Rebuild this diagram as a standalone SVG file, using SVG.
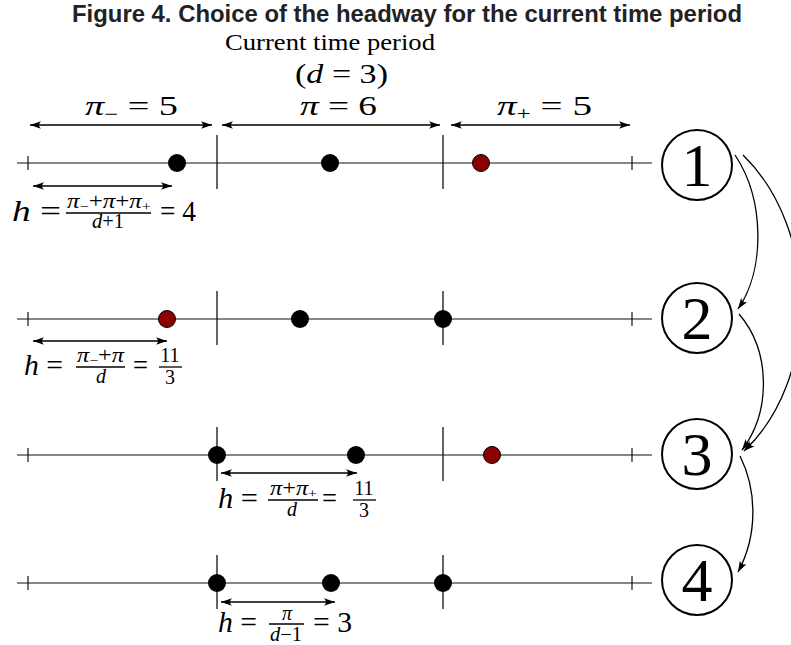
<svg xmlns="http://www.w3.org/2000/svg" width="791" height="645" viewBox="0 0 791 645">
<style>
.title{font-family:"Liberation Sans",Arial,sans-serif;font-weight:bold;font-size:24px;fill:#222}
.rm{font-family:"Liberation Serif","Times New Roman",serif;fill:#000}
.it{font-style:italic}
.ln{stroke:#111;stroke-width:1.2;fill:none}
.sep{stroke:#111;stroke-width:1.3}
.bar{stroke:#000;stroke-width:1.3}
.dot{fill:#000}
.red{fill:#8b0000;stroke:#000;stroke-width:1}
.arr{stroke:#000;stroke-width:1.4;fill:none;marker-start:url(#ah);marker-end:url(#ah)}
.node circle{fill:#fff;stroke:#000;stroke-width:2}
.node text{font-family:"Liberation Serif","Times New Roman",serif;font-size:62px;text-anchor:middle}
#connectors path{stroke:#000;stroke-width:1.3;fill:none;marker-end:url(#ah2)}
</style>
<defs>
<marker id="ah" viewBox="-12 -5 14 10" markerWidth="14" markerHeight="10" refX="0" refY="0" orient="auto-start-reverse" markerUnits="userSpaceOnUse"><path d="M0,0 L-11,-3.8 Q-7,0 -11,3.8 Z" fill="#000"/></marker>
<marker id="ah2" viewBox="-12 -5 14 10" markerWidth="14" markerHeight="10" refX="0" refY="0" orient="auto" markerUnits="userSpaceOnUse"><path d="M0,0 L-11,-3.8 Q-7,0 -11,3.8 Z" fill="#000"/></marker>
</defs>
<rect width="791" height="645" fill="#fff"/>

<text class="title" x="407" y="22" text-anchor="middle" textLength="670" lengthAdjust="spacingAndGlyphs">Figure 4. Choice of the headway for the current time period</text>

<g id="header">
<text class="rm" x="225" y="50" font-size="24" textLength="210" lengthAdjust="spacingAndGlyphs">Current time period</text>
<text class="rm" x="295" y="83" font-size="28" textLength="93" lengthAdjust="spacingAndGlyphs">(<tspan class="it">d</tspan> = 3)</text>
<text class="rm" x="85" y="115" font-size="28" textLength="93" lengthAdjust="spacingAndGlyphs"><tspan class="it">π</tspan><tspan font-size="18" dy="5">−</tspan><tspan dy="-5"> = 5</tspan></text>
<text class="rm" x="300" y="115" font-size="28" textLength="77" lengthAdjust="spacingAndGlyphs"><tspan class="it">π</tspan> = 6</text>
<text class="rm" x="497" y="115" font-size="28" textLength="95" lengthAdjust="spacingAndGlyphs"><tspan class="it">π</tspan><tspan font-size="18" dy="5">+</tspan><tspan dy="-5"> = 5</tspan></text>
<line class="arr" x1="30" y1="125" x2="212" y2="125"/>
<line class="arr" x1="222" y1="125" x2="440" y2="125"/>
<line class="arr" x1="451" y1="125" x2="630" y2="125"/>
</g>

<g id="row1">
<line class="ln" x1="17" y1="163" x2="652" y2="163"/>
<line class="ln" x1="28" y1="156" x2="28" y2="170"/>
<line class="ln" x1="632" y1="156" x2="632" y2="170"/>
<line class="sep" x1="217" y1="135" x2="217" y2="189"/>
<line class="sep" x1="443" y1="135" x2="443" y2="189"/>
<circle class="dot" cx="177" cy="163" r="9"/>
<circle class="dot" cx="330" cy="163" r="9"/>
<circle class="red" cx="481" cy="163" r="8.5"/>
<line class="arr" x1="33" y1="186" x2="172" y2="186"/>
<text class="rm" x="12" y="221" font-size="30" textLength="49" lengthAdjust="spacingAndGlyphs"><tspan class="it">h</tspan> =</text>
<text class="rm" x="67" y="208" font-size="20" textLength="84" lengthAdjust="spacingAndGlyphs"><tspan class="it">π</tspan><tspan font-size="13" dy="3">−</tspan><tspan dy="-3">+</tspan><tspan class="it">π</tspan>+<tspan class="it">π</tspan><tspan font-size="13" dy="3">+</tspan></text>
<line class="bar" x1="66" y1="213" x2="151" y2="213"/>
<text class="rm" x="92" y="228" font-size="20" textLength="32" lengthAdjust="spacingAndGlyphs"><tspan class="it">d</tspan>+1</text>
<text class="rm" x="160" y="221" font-size="30" textLength="36" lengthAdjust="spacingAndGlyphs">= 4</text>
</g>

<g id="row2">
<line class="ln" x1="17" y1="319" x2="652" y2="319"/>
<line class="ln" x1="28" y1="312" x2="28" y2="326"/>
<line class="ln" x1="632" y1="312" x2="632" y2="326"/>
<line class="sep" x1="217" y1="291" x2="217" y2="345"/>
<line class="sep" x1="443" y1="291" x2="443" y2="345"/>
<circle class="red" cx="167" cy="319" r="8.5"/>
<circle class="dot" cx="300" cy="319" r="9"/>
<circle class="dot" cx="443" cy="319" r="9"/>
<line class="arr" x1="33" y1="341" x2="167" y2="341"/>
<text class="rm" x="24" y="375" font-size="30" textLength="39" lengthAdjust="spacingAndGlyphs"><tspan class="it">h</tspan> =</text>
<text class="rm" x="77" y="362" font-size="20" textLength="47" lengthAdjust="spacingAndGlyphs"><tspan class="it">π</tspan><tspan font-size="13" dy="3">−</tspan><tspan dy="-3">+</tspan><tspan class="it">π</tspan></text>
<line class="bar" x1="76" y1="367" x2="125" y2="367"/>
<text class="rm it" x="101" y="383" font-size="20" text-anchor="middle">d</text>
<text class="rm" x="133" y="375" font-size="30" textLength="15" lengthAdjust="spacingAndGlyphs">=</text>
<text class="rm" x="170" y="362" font-size="20" text-anchor="middle">11</text>
<line class="bar" x1="159" y1="367" x2="182" y2="367"/>
<text class="rm" x="170" y="384" font-size="20" text-anchor="middle">3</text>
</g>

<g id="row3">
<line class="ln" x1="17" y1="455" x2="652" y2="455"/>
<line class="ln" x1="28" y1="448" x2="28" y2="462"/>
<line class="ln" x1="632" y1="448" x2="632" y2="462"/>
<line class="sep" x1="217" y1="427" x2="217" y2="481"/>
<line class="sep" x1="443" y1="427" x2="443" y2="481"/>
<circle class="dot" cx="217" cy="455" r="9"/>
<circle class="dot" cx="356" cy="455" r="9"/>
<circle class="red" cx="492" cy="455" r="8.5"/>
<line class="arr" x1="221" y1="473" x2="357" y2="473"/>
<text class="rm" x="218" y="508" font-size="30" textLength="40" lengthAdjust="spacingAndGlyphs"><tspan class="it">h</tspan> =</text>
<text class="rm" x="270" y="495" font-size="20" textLength="47" lengthAdjust="spacingAndGlyphs"><tspan class="it">π</tspan>+<tspan class="it">π</tspan><tspan font-size="13" dy="3">+</tspan></text>
<line class="bar" x1="268" y1="500" x2="318" y2="500"/>
<text class="rm it" x="292" y="516" font-size="20" text-anchor="middle">d</text>
<text class="rm" x="322" y="508" font-size="30" textLength="15" lengthAdjust="spacingAndGlyphs">=</text>
<text class="rm" x="364" y="495" font-size="20" text-anchor="middle">11</text>
<line class="bar" x1="353" y1="500" x2="376" y2="500"/>
<text class="rm" x="364" y="517" font-size="20" text-anchor="middle">3</text>
</g>

<g id="row4">
<line class="ln" x1="17" y1="583" x2="652" y2="583"/>
<line class="ln" x1="28" y1="576" x2="28" y2="590"/>
<line class="ln" x1="632" y1="576" x2="632" y2="590"/>
<line class="sep" x1="217" y1="555" x2="217" y2="609"/>
<line class="sep" x1="443" y1="555" x2="443" y2="609"/>
<circle class="dot" cx="217" cy="583" r="9"/>
<circle class="dot" cx="331" cy="583" r="9"/>
<circle class="dot" cx="443" cy="583" r="9"/>
<line class="arr" x1="221" y1="602" x2="335" y2="602"/>
<text class="rm" x="218" y="632" font-size="30" textLength="39" lengthAdjust="spacingAndGlyphs"><tspan class="it">h</tspan> =</text>
<text class="rm it" x="287" y="620" font-size="20" text-anchor="middle">π</text>
<line class="bar" x1="269" y1="624" x2="304" y2="624"/>
<text class="rm" x="270" y="641" font-size="20" textLength="32" lengthAdjust="spacingAndGlyphs"><tspan class="it">d</tspan>−1</text>
<text class="rm" x="313" y="632" font-size="30" textLength="39" lengthAdjust="spacingAndGlyphs">= 3</text>
</g>

<g id="node1" class="node"><circle cx="697" cy="165" r="35"/><text x="697" y="186">1</text></g>
<g id="node2" class="node"><circle cx="697" cy="318" r="35"/><text x="697" y="339">2</text></g>
<g id="node3" class="node"><circle cx="697" cy="454" r="35"/><text x="697" y="475">3</text></g>
<g id="node4" class="node"><circle cx="697" cy="580" r="35"/><text x="697" y="601">4</text></g>

<g id="connectors">
<path d="M735,155 C765,200 765,270 738,309"/>
<path d="M743,155 C820,230 820,380 744,451"/>
<path d="M739,314 C770,350 772,410 742,450"/>
<path d="M740,456 C757,490 758,535 738,572"/>
</g>
</svg>
